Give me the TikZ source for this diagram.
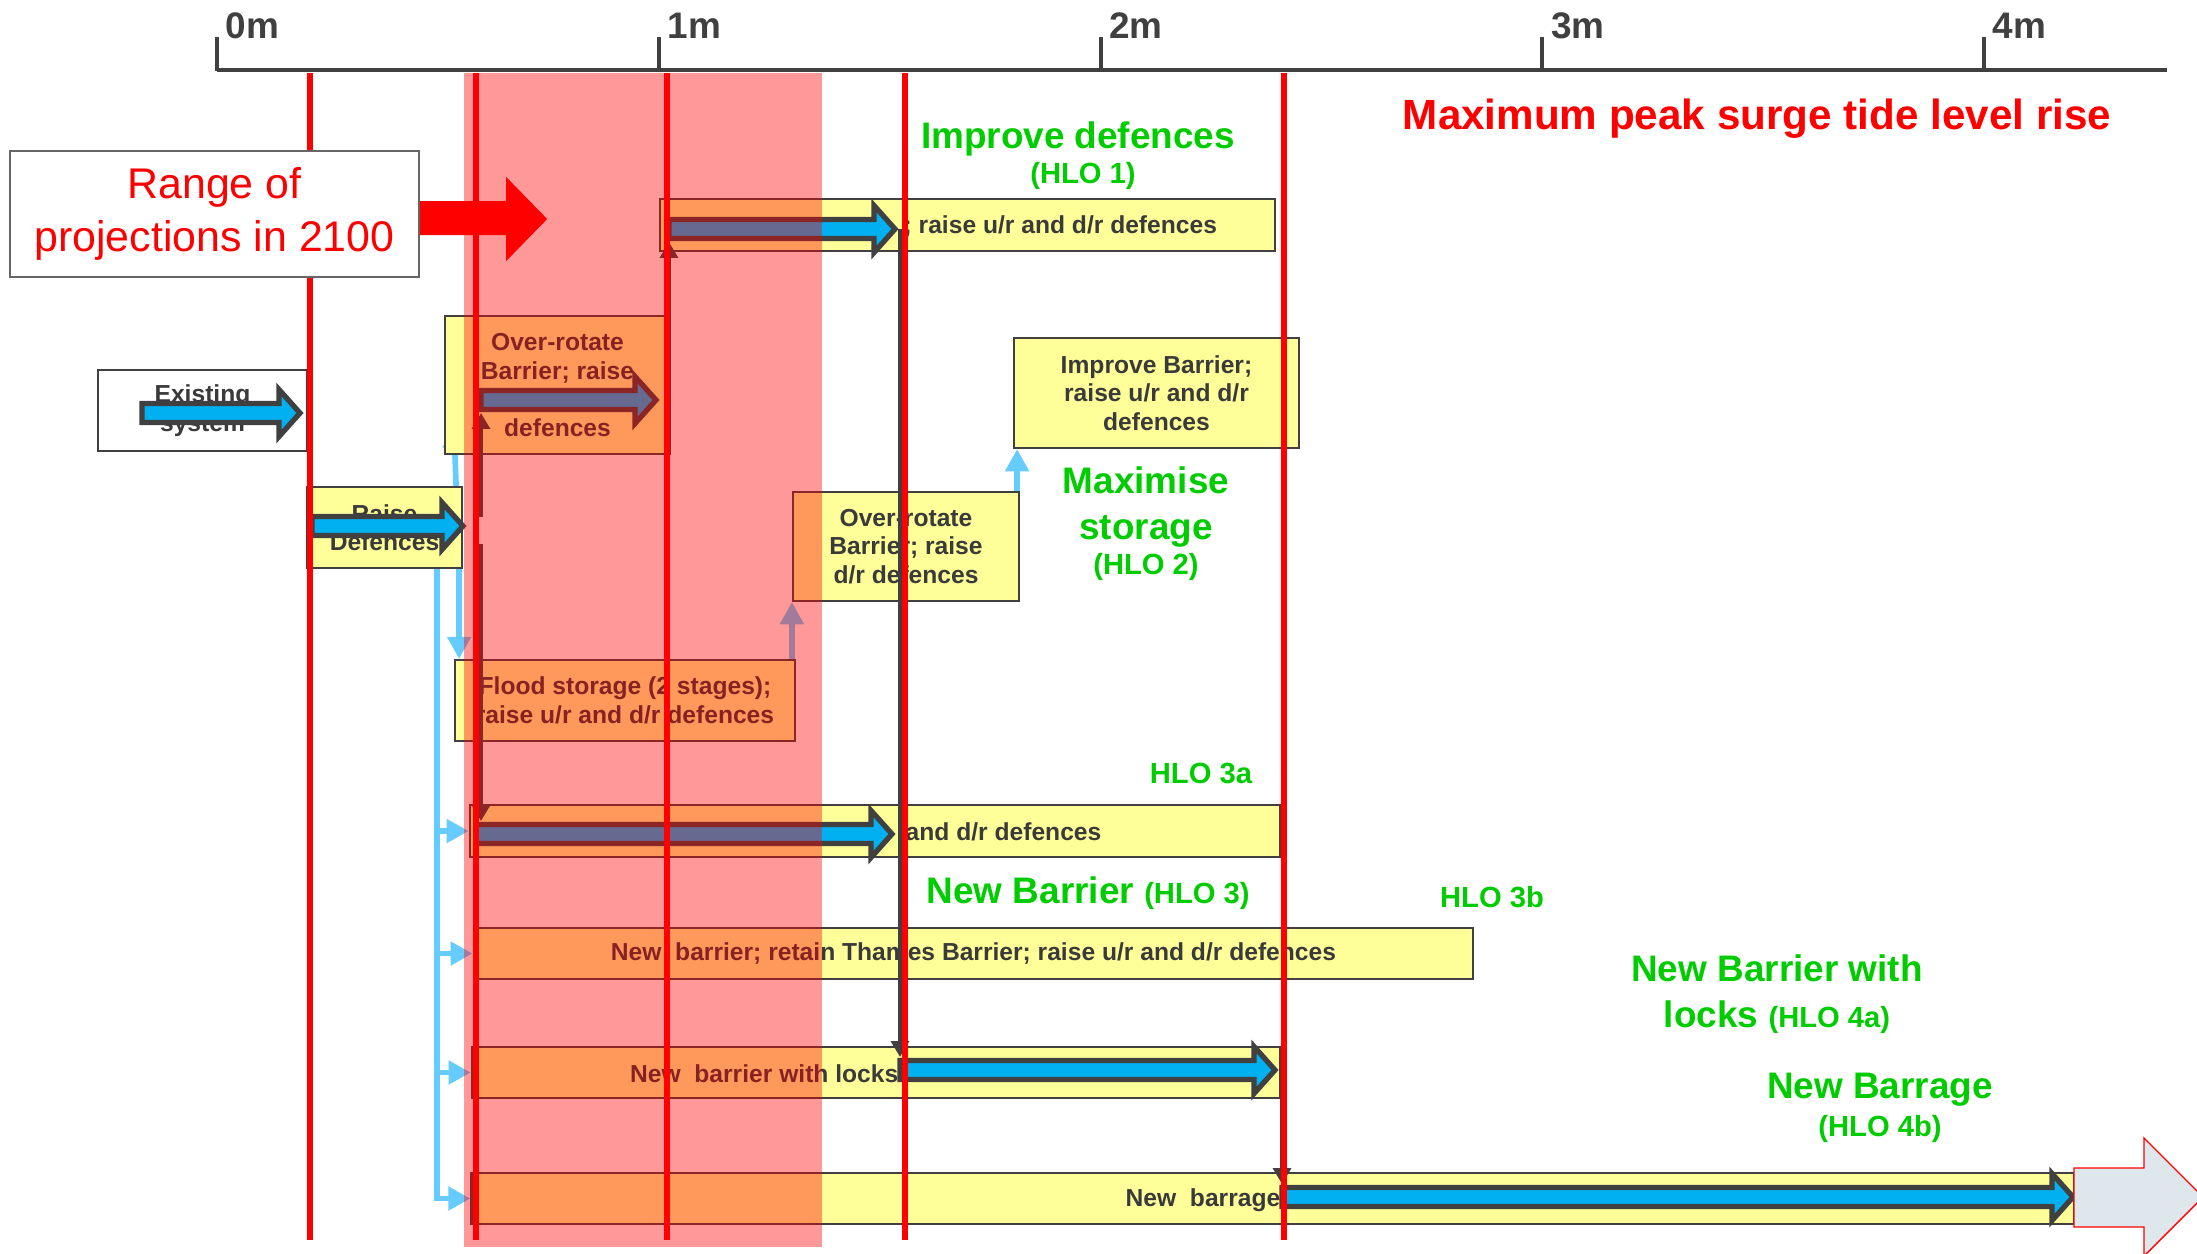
\documentclass[tikz,border=0pt]{standalone}
\usepackage{fontspec}
\setmainfont{Liberation Sans}
\usetikzlibrary{positioning,arrows.meta,calc,backgrounds}
\definecolor{EdgeGray}{HTML}{404040}
\definecolor{TextGray}{HTML}{3A3A3A}
\definecolor{BoxYellow}{HTML}{FFFF99}
\definecolor{ArrowBlue}{HTML}{00B0F0}
\definecolor{LinkBlue}{HTML}{66CCFF}
\definecolor{LabelGreen}{HTML}{00CC00}
\definecolor{BandRed}{HTML}{FF0000}
\definecolor{BigArrow}{HTML}{DEE8EC}

\newcommand{\blockarrow}[2]{%
  \filldraw[blockarr] ($(#1)+(0,-9.5)$) -- ($(#2)+(-24,-9.5)$) -- ($(#2)+(-24,-23.5)$)
    -- ($(#2)+(-3,0)$) -- ($(#2)+(-24,23.5)$) -- ($(#2)+(-24,9.5)$) -- ($(#1)+(0,9.5)$) -- cycle;}

\begin{document}
\begin{tikzpicture}[x=0.01cm,y=-0.01cm,
    box/.style={draw=EdgeGray, fill=BoxYellow, line width=0.6pt, inner sep=0pt,
      align=center, text=TextGray, font=\bfseries\fontsize{7}{8.1}\selectfont},
    boxtxt/.style={inner sep=0pt, text=TextGray, font=\bfseries\fontsize{7}{8.1}\selectfont},
    biglbl/.style={inner sep=0pt, align=center, text=LabelGreen,
      font=\bfseries\fontsize{10.5}{13}\selectfont},
    hlolbl/.style={inner sep=0pt, text=LabelGreen, font=\bfseries\fontsize{8.3}{10}\selectfont},
    blockarr/.style={fill=ArrowBlue, draw=EdgeGray, line width=1.5pt, line join=miter},
    darkln/.style={draw=EdgeGray, line width=1.3pt, -{Triangle[length=4.5pt,width=5pt]}},
    blueln/.style={draw=LinkBlue, line width=1.6pt, -{Triangle[length=6.3pt,width=6.5pt]}},
    rangeln/.style={draw=red, line width=1.5pt}]
  \useasboundingbox (0,0) rectangle (2197,1253);
  \clip (0,0) rectangle (2197,1253);

  % axis
  \draw[EdgeGray, line width=1.4pt] (217,70) -- (2167,70);
  \foreach \i in {0,...,4} {
    \draw[EdgeGray, line width=1.1pt] ({217+441.8*\i},71) -- ({217+441.8*\i},37);
    \node[anchor=base west, inner sep=0pt, text=EdgeGray,
      font=\bfseries\fontsize{10.5}{12}\selectfont] (tick\i) at ({225+441.8*\i},38) {\i m};
  }

  % option boxes
  \node[box, fill=white, minimum width=2.09cm, minimum height=0.81cm] (exist) at (202.5,410.5) {Existing\\system};
  \node[box, minimum width=1.55cm, minimum height=0.81cm] (raise) at (384.5,527.5) {Raise\\Defences};
  \node[box, minimum width=2.25cm, minimum height=1.38cm] (orot1) at (557.5,385) {Over-rotate\\Barrier; raise\\\mbox{}\\defences};
  \node[box, minimum width=6.15cm, minimum height=0.52cm] (hlo1) at (967.5,225) {};
  \node[box, minimum width=3.40cm, minimum height=0.81cm] (flood) at (625,700.5) {Flood storage (2 stages);\\raise u/r and d/r defences};
  \node[box, minimum width=2.26cm, minimum height=1.09cm] (orot2) at (906,546.5) {Over-rotate\\Barrier; raise\\d/r defences};
  \node[box, minimum width=2.85cm, minimum height=1.10cm] (impr) at (1156.5,393) {Improve Barrier;\\raise u/r and d/r\\defences};
  \node[box, minimum width=8.10cm, minimum height=0.52cm] (hlo3a) at (875,831) {};
  \node[box, minimum width=9.99cm, minimum height=0.51cm] (hlo3b) at (973.5,953.5) {New~ barrier; retain Thames Barrier; raise u/r and d/r defences};
  \node[box, minimum width=8.08cm, minimum height=0.51cm] (hlo4a) at (876,1072.5) {};
  \node[box, minimum width=16.02cm, minimum height=0.51cm] (hlo4b) at (1273,1198.5) {};

  \node[boxtxt, anchor=west] (hlo1txt) at (903,226) {; raise u/r and d/r defences};
  \node[boxtxt, anchor=west] (hlo3atxt) at (905,832) {and d/r defences};
  \node[boxtxt, anchor=east] (hlo4atxt) at (899,1074) {New~ barrier with locks};
  \node[boxtxt, anchor=east] (hlo4btxt) at (1281,1200) {New~ barrage};

  % light blue links
  \begin{scope}[on background layer]
    \coordinate (fork) at ($(raise.south east)+(-4,0)$);
    \coordinate (trunk) at ($(raise.south west)+(131,0)$);
    \coordinate (o2up) at ($(orot2.north east)+(-3,0)$);
    \draw[blueln] ($(raise.north east)+(-7,0)$) -- ($(orot1.south west)+(10,-30)$);
    \draw[blueln] (fork) -- (fork |- flood.north);
    \foreach \b in {hlo3a,hlo3b,hlo4a,hlo4b}
      \draw[blueln] (trunk) |- (\b.west);
    \draw[blueln] (flood.north east -| orot2.south west) -- (orot2.south west);
    \draw[blueln] (o2up) -- (o2up |- impr.south);
  \end{scope}

  % block arrows
  \coordinate (exS) at (142,413);  \coordinate (exT) at (303,413);
  \coordinate (raS) at (312,526);  \coordinate (raT) at (466,526);
  \coordinate (orS) at (481,400);  \coordinate (orT) at (659,400);
  \coordinate (hlS) at (669,229);  \coordinate (hlT) at (898,229);
  \coordinate (h3S) at (476,834);  \coordinate (h3T) at (895,834);
  \coordinate (h4S) at (900,1070); \coordinate (h4T) at (1278,1070);
  \coordinate (h5S) at (1282,1197);\coordinate (h5T) at (2076,1197);
  \blockarrow{exS}{exT}
  \blockarrow{raS}{raT}
  \blockarrow{orS}{orT}
  \blockarrow{hlS}{hlT}
  \blockarrow{h3S}{h3T}
  \blockarrow{h4S}{h4T}
  \blockarrow{h5S}{h5T}

  % dark links
  \draw[darkln] ($(orS |- raT)+(0,-9)$) -- ($(orS)+(0,13)$);
  \draw[darkln] ($(orS |- raT)+(0,18)$) -- ($(orS |- h3S)+(0,-13)$);
  \draw[darkln] (hlS |- orT) -- ($(hlS)+(0,13)$);
  \draw[darkln] (h4S |- hlT) -- ($(h4S)+(0,-13)$);
  \draw[darkln] ($(h5S |- h4T)+(0,22)$) -- ($(h5S)+(0,-13)$);

  % range band and levels
  \fill[BandRed, opacity=0.4] (464,73) rectangle (822,1247);
  \foreach \x in {310,476,667,905,1284}
    \draw[rangeln] (\x,73) -- (\x,1240);

  \node[draw=gray!80!black, fill=white, line width=0.6pt, minimum width=4.09cm, minimum height=1.26cm,
    align=center, text=red, font=\fontsize{12.2}{15}\selectfont] (range) at (214.5,214) {Range of\\projections in 2100};
  \fill[red] ($(range.east)+(0,-13)$) -- ++(86,0) -- ++(0,-24) -- ++(41,42) -- ++(-41,42) -- ++(0,-26) -- ++(-86,0) -- cycle;

  % labels
  \node[inner sep=0pt, text=red, font=\bfseries\fontsize{12}{14}\selectfont] (title) at (1757,119) {Maximum peak surge tide level rise};
  \node[biglbl] (hlo1lbl) at (1078,139) {Improve defences};
  \node[hlolbl] (hlo1num) at (1083,176) {(HLO 1)};
  \node[biglbl] (hlo2lbl) at (1146,507) {Maximise\\storage};
  \node[hlolbl] (hlo2num) at (1146,567) {(HLO 2)};
  \node[hlolbl] (hlo3anum) at (1201,773) {HLO 3a};
  \node[biglbl, anchor=base west] (hlo3lbl) at (926,903) {New Barrier {\fontsize{8.3}{10}\selectfont(HLO 3)}};
  \node[hlolbl] (hlo3bnum) at (1492,897) {HLO 3b};
  \node[biglbl] (hlo4albl) at (1777,994) {New Barrier with\\locks {\fontsize{8.3}{10}\selectfont(HLO 4a)}};
  \node[biglbl] (hlo4blbl) at (1880,1090) {New Barrage};
  \node[hlolbl] (hlo4bnum) at (1880,1129) {(HLO 4b)};

  % onward arrow
  \filldraw[fill=BigArrow, draw=red, line width=0.4pt] (2074,1168) -- (2144,1168) -- (2144,1138)
    -- (2203,1197) -- (2144,1256) -- (2144,1227) -- (2074,1227) -- cycle;
\end{tikzpicture}
\end{document}
